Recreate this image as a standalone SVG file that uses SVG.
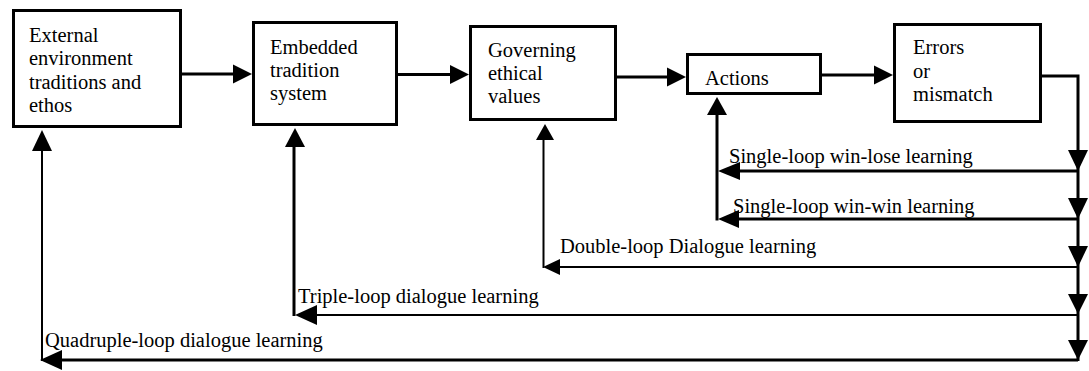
<svg xmlns="http://www.w3.org/2000/svg" width="1089" height="371" viewBox="0 0 1089 371">
<style>
.box{fill:#fff;stroke:#000;stroke-width:3}
.t{font-family:"Liberation Serif","Times New Roman",serif;font-size:20.5px;fill:#000}
.ln{fill:none;stroke:#000;stroke-width:3}
.tn{fill:none;stroke:#000;stroke-width:2}
.ah{fill:#000;stroke:none}
</style>
<rect width="1089" height="371" fill="#fff"/>
<g id="connectors">
<line class="ln" x1="182" y1="74" x2="234" y2="74"/>
<polygon class="ah" points="233,64.5 252,74 233,83.5"/>
<line class="ln" x1="398" y1="74.5" x2="451" y2="74.5"/>
<polygon class="ah" points="450,65 469,74.5 450,84"/>
<line class="ln" x1="617" y1="77" x2="668" y2="77"/>
<polygon class="ah" points="667,67.5 686,77 667,86.5"/>
<line class="ln" x1="822" y1="75" x2="875" y2="75"/>
<polygon class="ah" points="874,65.5 893,75 874,84.5"/>
<polyline class="ln" points="1042,76 1078,76 1078,361"/>
<polygon class="ah" points="1068,150 1078,171 1088,150"/>
<polygon class="ah" points="1068,198 1078,219 1088,198"/>
<polygon class="ah" points="1068,246 1078,267 1088,246"/>
<polygon class="ah" points="1068,294 1078,314 1088,294"/>
<polygon class="ah" points="1068,340 1078,360 1088,340"/>
<line class="ln" x1="1078" y1="171" x2="739" y2="171"/>
<polygon class="ah" points="740,162 718,171 740,180"/>
<line class="ln" x1="1078" y1="219" x2="738" y2="219"/>
<polygon class="ah" points="739,210 718,219 739,228"/>
<line class="ln" x1="717" y1="114" x2="717" y2="220.5"/>
<polygon class="ah" points="707,115 717,97 727,115"/>
<line class="tn" x1="1078" y1="267" x2="559" y2="267"/>
<polygon class="ah" points="560,259 543,267 560,275"/>
<line class="tn" x1="543.5" y1="139" x2="543.5" y2="268"/>
<polygon class="ah" points="536,140 545,124 554,140"/>
<line class="tn" x1="1078" y1="315" x2="316" y2="315"/>
<polygon class="ah" points="317,305 295,315 317,325"/>
<line class="ln" x1="294" y1="146" x2="294" y2="316"/>
<polygon class="ah" points="285,147 295,128 305,147"/>
<line class="ln" x1="1078" y1="360" x2="61" y2="360"/>
<polygon class="ah" points="62,350 40,360 62,370"/>
<line class="tn" x1="42" y1="150" x2="42" y2="361"/>
<polygon class="ah" points="32,151 42,130 52,151"/>
<text class="t" x="729" y="163">Single-loop win-lose learning</text>
<text class="t" x="733" y="213">Single-loop win-win learning</text>
<text class="t" x="560" y="253">Double-loop Dialogue learning</text>
<text class="t" x="298" y="303">Triple-loop dialogue  learning</text>
<text class="t" x="45" y="347">Quadruple-loop dialogue  learning</text>
</g>
<g id="node-external">
<rect class="box" x="13.5" y="10.5" width="167" height="116"/>
<text class="t" x="29" y="42">External</text>
<text class="t" x="29" y="65">environment</text>
<text class="t" x="29" y="89">traditions and</text>
<text class="t" x="29" y="112">ethos</text>
</g>
<g id="node-embedded">
<rect class="box" x="253.5" y="22.5" width="143" height="102"/>
<text class="t" x="270" y="54">Embedded</text>
<text class="t" x="270" y="77">tradition</text>
<text class="t" x="270" y="100">system</text>
</g>
<g id="node-governing">
<rect class="box" x="470.5" y="26.5" width="145" height="93"/>
<text class="t" x="488" y="57">Governing</text>
<text class="t" x="488" y="80">ethical</text>
<text class="t" x="488" y="103">values</text>
</g>
<g id="node-actions">
<rect class="box" x="687.5" y="54.5" width="133" height="39"/>
<text class="t" x="705" y="85">Actions</text>
</g>
<g id="node-errors">
<rect class="box" x="894.5" y="24.5" width="146" height="97"/>
<text class="t" x="913" y="54">Errors</text>
<text class="t" x="913" y="78">or</text>
<text class="t" x="913" y="101">mismatch</text>
</g>
</svg>
